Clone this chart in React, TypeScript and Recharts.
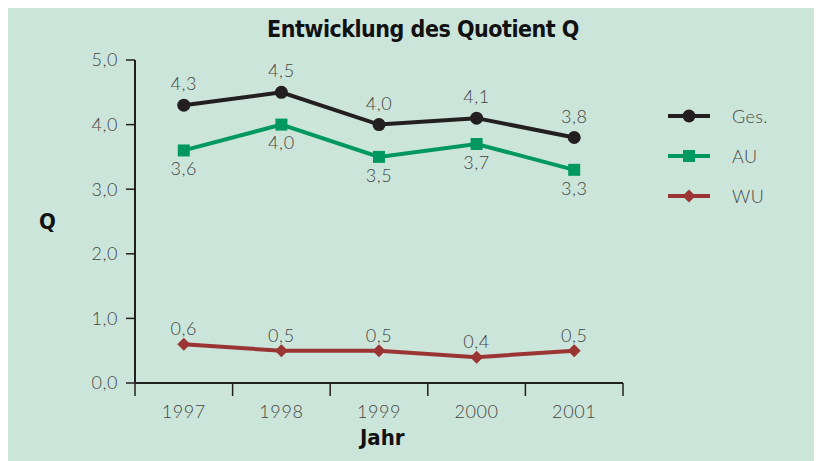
import React from 'react';
import { LineChart, Line, XAxis, YAxis, LabelList } from 'recharts';

const years = ['1997', '1998', '1999', '2000', '2001'];
const ges = [4.3, 4.5, 4.0, 4.1, 3.8];
const au = [3.6, 4.0, 3.5, 3.7, 3.3];
const wu = [0.6, 0.5, 0.5, 0.4, 0.5];
const yTicks = [0, 1, 2, 3, 4, 5];
const bandTicks = [0, 1, 2, 3, 4, 5];

const BG = '#cce5da';
const INK = '#231f20';
const GREEN = '#00985f';
const RED = '#9b3534';
const GREY = '#454545';
const LIGHT = "Lato, 'Open Sans', sans-serif";
const BOLD = "'DejaVu Sans Condensed', 'Liberation Sans Narrow', 'Open Sans', sans-serif";

const data = years.map((year, i) => ({ year, idx: i + 0.5, ges: ges[i], au: au[i], wu: wu[i] }));

const comma = (v: number) => v.toFixed(1).replace('.', ',');

const series = [
  { key: 'ges', name: 'Ges.', color: INK, shape: 'circle' },
  { key: 'au', name: 'AU', color: GREEN, shape: 'square' },
  { key: 'wu', name: 'WU', color: RED, shape: 'diamond' },
];

// light text, a bit wider like the original's geometric face
const lightText = { fontFamily: LIGHT, fontWeight: 300, fontSize: 18, fill: GREY, letterSpacing: 0.6 };

function Marker({ cx, cy, shape, color }: any) {
  if (cx == null || cy == null) return null;
  if (shape === 'circle') return <circle cx={cx} cy={cy} r={6.5} fill={color} />;
  if (shape === 'square') return <rect x={cx - 6} y={cy - 6} width={12} height={12} fill={color} />;
  return <polygon points={`${cx},${cy - 6.5} ${cx + 6.5},${cy} ${cx},${cy + 6.5} ${cx - 6.5},${cy}`} fill={color} />;
}

function LegendBox() {
  return (
    <div style={{ position: 'absolute', left: 660, top: 88 }}>
      {series.map((s) => (
        <div key={s.key} style={{ display: 'flex', alignItems: 'center', height: 40 }}>
          <svg width={44} height={16}>
            <line x1={0} y1={8} x2={42} y2={8} stroke={s.color} strokeWidth={4} />
            <Marker cx={21} cy={8} shape={s.shape} color={s.color} />
          </svg>
          <span style={{ marginLeft: 20, fontFamily: LIGHT, fontWeight: 300, fontSize: 18, color: GREY, letterSpacing: 0.4 }}>{s.name}</span>
        </div>
      ))}
    </div>
  );
}

export default function App() {
  return (
    <div style={{ position: 'relative', width: 814, height: 453, background: BG }}>
      <div style={{ position: 'absolute', top: 8, left: 0, width: 830, textAlign: 'center', fontFamily: BOLD, fontWeight: 700, fontSize: 23, color: '#111', letterSpacing: -0.5 }}>
        Entwicklung des Quotient Q
      </div>
      <div style={{ position: 'absolute', top: 201, left: 31, fontFamily: BOLD, fontWeight: 700, fontSize: 22, color: '#111' }}>Q</div>
      <div style={{ position: 'absolute', top: 417, left: 352, fontFamily: BOLD, fontWeight: 700, fontSize: 22, color: '#111' }}>Jahr</div>
      <LineChart width={814} height={453} data={data} margin={{ top: 52, right: 199, bottom: 76, left: 67 }}>
        <XAxis
          xAxisId="band"
          type="number"
          dataKey="idx"
          domain={[0, 5]}
          ticks={bandTicks}
          tickFormatter={() => ''}
          height={1}
          axisLine={{ stroke: INK, strokeWidth: 2 }}
          tickLine={{ stroke: INK, strokeWidth: 1.5 }}
          tickSize={13}
        />
        <XAxis
          xAxisId="cat"
          dataKey="year"
          scale="band"
          height={1}
          axisLine={false}
          tickLine={false}
          tickMargin={15}
          tick={lightText}
        />
        <YAxis
          width={60}
          domain={[0, 5]}
          ticks={yTicks}
          tickFormatter={comma}
          axisLine={{ stroke: INK, strokeWidth: 2 }}
          tickLine={{ stroke: INK, strokeWidth: 1.5 }}
          tickSize={9}
          tickMargin={8}
          tick={lightText}
        />
        {series.map((s) => (
          <Line
            key={s.key}
            xAxisId="cat"
            dataKey={s.key}
            name={s.name}
            stroke={s.color}
            strokeWidth={4}
            isAnimationActive={false}
            dot={(p: any) => <Marker key={`${s.key}-${p.index}`} cx={p.cx} cy={p.cy} shape={s.shape} color={s.color} />}
            activeDot={false}
          >
            <LabelList
              dataKey={s.key}
              position={s.key === 'au' ? 'bottom' : 'top'}
              offset={s.key === 'ges' ? 15 : s.key === 'au' ? 12 : 9}
              formatter={comma}
              style={lightText}
            />
          </Line>
        ))}
      </LineChart>
      <LegendBox />
    </div>
  );
}
